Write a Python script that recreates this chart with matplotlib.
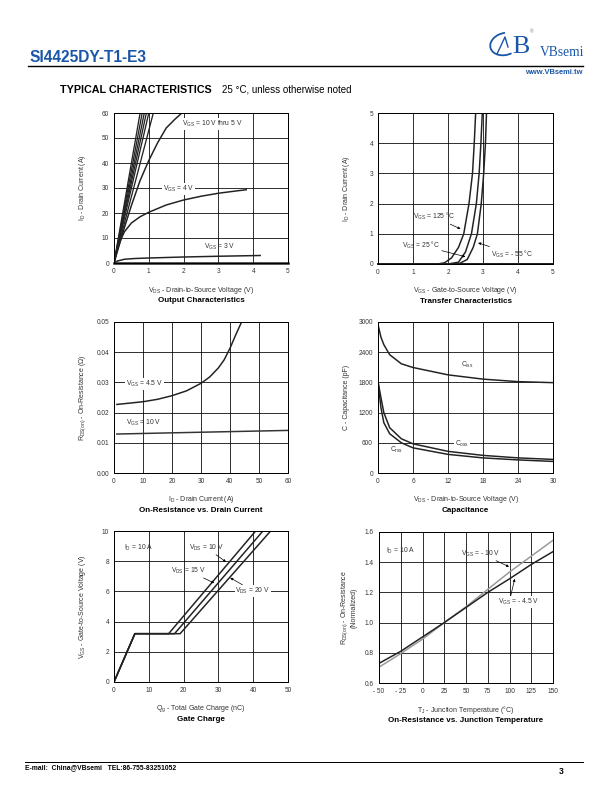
import matplotlib
matplotlib.use('Agg')
import matplotlib.pyplot as plt
from matplotlib.patches import Arc
from matplotlib.lines import Line2D

plt.rcParams['font.family'] = ['Liberation Sans', 'DejaVu Sans']
plt.rcParams['mathtext.fontset'] = 'custom'
plt.rcParams['mathtext.rm'] = 'Liberation Sans'
plt.rcParams['mathtext.it'] = 'Liberation Sans:italic'
plt.rcParams['mathtext.bf'] = 'Liberation Sans:bold'

W, H = 612, 792
BLUE = '#1a56a8'
TXT = '#333333'

# ---------------- data ----------------
# Output characteristics
out_steep_vds = [[0, 0.75], [0, 0.81], [0, 0.87], [0, 0.93], [0, 1.0], [0, 1.13]]
out_steep_id = [0, 60]
out_vgs5_vds = [0, 0.25, 0.5, 0.75, 1.0, 1.25, 1.5, 1.75, 1.95]
out_vgs5_id = [0, 12, 23, 33, 41, 48, 54, 57.5, 60]
out_vgs4_vds = [0, 0.05, 0.1, 0.2, 0.3, 0.5, 0.75, 1.0, 1.5, 2.0, 2.5, 3.0, 3.5, 3.8]
out_vgs4_id = [0, 3, 5.5, 9.5, 12.5, 16, 18.5, 20.3, 23.2, 25.2, 26.7, 27.9, 28.8, 29.3]
out_vgs3_vds = [0, 0.1, 0.3, 0.6, 1.0, 2.0, 3.0, 4.2]
out_vgs3_id = [0, 0.8, 1.5, 1.8, 2.0, 2.4, 2.7, 3.0]
out_vgs2_vds = [0, 5]
out_vgs2_id = [0, 0]

# Transfer characteristics
tr_125_vgs = [0, 1.7, 1.9, 2.1, 2.3, 2.45, 2.6, 2.7, 2.75, 2.79]
tr_125_id = [0, 0, 0.04, 0.2, 0.55, 1.0, 2.0, 3.0, 4.0, 5]
tr_25_vgs = [0, 2.0, 2.3, 2.5, 2.67, 2.81, 2.89, 2.94, 2.98]
tr_25_id = [0, 0, 0.06, 0.4, 1.0, 2.0, 3.0, 4.0, 5]
tr_m55_vgs = [0, 2.3, 2.55, 2.72, 2.84, 2.95, 3.02, 3.07, 3.1]
tr_m55_id = [0, 0, 0.15, 0.55, 1.0, 2.0, 3.0, 4.0, 5]

# On-resistance vs drain current
rd_id_45 = [1, 5, 10, 15, 20, 25, 30, 33, 36, 38, 40, 42, 44]
rd_r_45 = [0.0227, 0.0231, 0.0236, 0.0244, 0.0256, 0.0272, 0.0297, 0.0318, 0.0348, 0.0375, 0.0413, 0.0458, 0.0500]
rd_id_10 = [1, 20, 40, 60]
rd_r_10 = [0.0129, 0.0133, 0.0137, 0.0141]

# Capacitance
cap_vds = [0, 0.5, 1, 2, 4, 6, 12, 18, 24, 30]
cap_ciss = [2950, 2700, 2550, 2350, 2170, 2096, 1950, 1865, 1815, 1795]
cap_coss = [1820, 1500, 1200, 900, 680, 580, 430, 350, 300, 270]
cap_crss = [1800, 1300, 1000, 780, 600, 500, 370, 300, 260, 230]

# Gate charge
gc_vgs = [0, 3.2, 3.2, 10]
gc_qg_10 = [0, 6, 15.7, 40.7]
gc_qg_15 = [0, 6, 17.4, 42.8]
gc_qg_20 = [0, 6, 19.0, 45.0]

# On-resistance vs junction temperature
tj = [-50, -25, 0, 25, 50, 75, 100, 125, 150]
rt_45 = [0.73, 0.81, 0.905, 1.0, 1.10, 1.20, 1.29, 1.385, 1.47]
rt_10 = [0.705, 0.795, 0.89, 1.0, 1.105, 1.22, 1.335, 1.44, 1.545]

fig = plt.figure(figsize=(W / 72, H / 72), dpi=72)


def fx(x):
    return x / W


def fy(y):
    return 1 - y / H


def make_ax(l, t, r, b, xlim, ylim, xticks, yticks, xlabel, ylabel, title,
            xticklabels=None, yticklabels=None):
    ax = fig.add_axes([fx(l), fy(b), (r - l) / W, (b - t) / H])
    ax.set_xlim(xlim)
    ax.set_ylim(ylim)
    ax.set_xticks(xticks)
    ax.set_yticks(yticks)
    if xticklabels is not None:
        ax.set_xticklabels(xticklabels)
    if yticklabels is not None:
        ax.set_yticklabels(yticklabels)
    ax.tick_params(length=0, labelsize=6.5, labelcolor=TXT, pad=5)
    ax.grid(True, color='black', lw=0.8)
    for s in ax.spines.values():
        s.set_linewidth(1.0)
    cx = (l + r) / 2
    fig.text(fx(cx), fy(b + 27), xlabel, ha='center', va='center', fontsize=7, color=TXT)
    fig.text(fx(cx), fy(b + 37.5), title, ha='center', va='center', fontsize=8,
             fontweight='bold')
    fig.text(fx(l - 31), fy((t + b) / 2), ylabel, ha='center', va='center', rotation=90,
             fontsize=7, color=TXT, multialignment='center', linespacing=1.1)
    return ax


lab = dict(fontsize=6.8, color=TXT)
wbox = dict(facecolor='white', edgecolor='none', pad=0.8)
arr = dict(arrowstyle='-|>', color='black', lw=0.7, mutation_scale=5, shrinkA=0, shrinkB=0)
LW = 1.5

# ---- header ----
fig.text(fx(30), fy(57), 'SI4425DY-T1-E3', fontsize=15.5, fontweight='bold', color=BLUE,
         va='center', ha='left')
fig.add_artist(Line2D([fx(28), fx(583)], [fy(66), fy(66)], color='black', lw=1.4))
fig.text(fx(583), fy(72), 'www.VBsemi.tw', fontsize=7.5, fontweight='bold', color=BLUE,
         ha='right', va='center')
fig.text(fx(584), fy(52), 'VBsemi', fontsize=13.5, family='Liberation Serif', color=BLUE,
         ha='right', va='center')
fig.text(fx(532), fy(32), '®', fontsize=4.5, color='#777777', ha='center', va='center')
logo = fig.add_axes([fx(488), fy(61), 46 / W, 30 / H])
logo.set_xlim(0, 46)
logo.set_ylim(0, 30)
logo.axis('off')
logo.add_patch(Arc((17, 17), 30, 22, angle=15, theta1=75, theta2=290, color=BLUE, lw=1.8))
logo.plot([9, 17, 20], [7, 24, 14], color=BLUE, lw=1.4)
logo.text(33, 14, 'B', fontsize=26, family='Liberation Serif', color=BLUE, ha='center',
          va='center')

fig.text(fx(60), fy(90), 'TYPICAL CHARACTERISTICS', fontsize=10.8, fontweight='bold',
         va='center', ha='left')
fig.text(fx(222), fy(90), '25 °C, unless otherwise noted', fontsize=9.8, va='center',
         ha='left')

# ---- footer ----
fig.add_artist(Line2D([fx(25), fx(583)], [fy(762), fy(762)], color='black', lw=1.0))
fig.text(fx(25), fy(768), 'E-mail:  China@VBsemi   TEL:86-755-83251052', fontsize=6.8,
         fontweight='bold', va='center', ha='left')
fig.text(fx(561), fy(771), '3', fontsize=8.5, fontweight='bold', va='center', ha='center')

# ---- 1: output characteristics ----
ax = make_ax(114, 113, 288, 263, (0, 5), (0, 60), range(0, 6), range(0, 61, 10),
             r'V$_{\rm DS}$ - Drain-to-Source Voltage (V)', r'I$_{\rm D}$ - Drain Current (A)',
             'Output Characteristics')
for v in out_steep_vds:
    ax.plot(v, out_steep_id, color='#222222', lw=1.3)
ax.plot(out_vgs5_vds, out_vgs5_id, color='#222222', lw=LW)
ax.plot(out_vgs4_vds, out_vgs4_id, color='#222222', lw=LW)
ax.plot(out_vgs3_vds, out_vgs3_id, color='#222222', lw=LW)
ax.plot(out_vgs2_vds, out_vgs2_id, color='#222222', lw=2.5, clip_on=False)
ax.text(1.95, 55.5, r'V$_{\rm GS}$ = 10 V thru 5 V', va='center', ha='left', bbox=wbox, **lab)
ax.text(1.4, 29.6, r'V$_{\rm GS}$ = 4 V', va='center', ha='left', bbox=wbox, **lab)
ax.text(2.6, 6.3, r'V$_{\rm GS}$ = 3 V', va='center', ha='left', **lab)

# ---- 2: transfer characteristics ----
ax = make_ax(378, 113, 553, 264, (0, 5), (0, 5), range(0, 6), range(0, 6),
             r'V$_{\rm GS}$ - Gate-to-Source Voltage (V)', r'I$_{\rm D}$ - Drain Current (A)',
             'Transfer Characteristics')
ax.plot(tr_125_vgs, tr_125_id, color='#222222', lw=LW)
ax.plot(tr_25_vgs, tr_25_id, color='#222222', lw=LW)
ax.plot(tr_m55_vgs, tr_m55_id, color='#222222', lw=LW)
ax.plot([0, 5], [0, 0], color='#222222', lw=2.0, clip_on=False)
ax.annotate(r'V$_{\rm GS}$ = 125 °C', xy=(2.36, 1.16), xytext=(1.0, 1.57), va='center',
            ha='left', arrowprops=arr, **lab)
ax.annotate(r'V$_{\rm GS}$ = 25 °C', xy=(2.5, 0.24), xytext=(0.68, 0.62), va='center',
            ha='left', arrowprops=arr, **lab)
ax.annotate(r'V$_{\rm GS}$ = - 55 °C', xy=(2.86, 0.7), xytext=(3.24, 0.33), va='center',
            ha='left', arrowprops=arr, **lab)

# ---- 3: on-resistance vs drain current ----
ax = make_ax(114, 322, 288, 473, (0, 60), (0, 0.05), range(0, 61, 10),
             [0, 0.01, 0.02, 0.03, 0.04, 0.05],
             r'I$_{\rm D}$ - Drain Current (A)',
             r'R$_{\rm DS(on)}$ - On-Resistance ($\Omega$)',
             'On-Resistance vs. Drain Current',
             yticklabels=['0.00', '0.01', '0.02', '0.03', '0.04', '0.05'])
ax.plot(rd_id_45, rd_r_45, color='#222222', lw=LW)
ax.plot(rd_id_10, rd_r_10, color='#333333', lw=LW)
ax.text(4.2, 0.0294, r'V$_{\rm GS}$ = 4.5 V', va='center', ha='left', bbox=wbox, **lab)
ax.text(4.0, 0.0167, r'V$_{\rm GS}$ = 10 V', va='center', ha='left', **lab)

# ---- 4: capacitance ----
ax = make_ax(378, 322, 553, 473, (0, 30), (0, 3000), range(0, 31, 6), range(0, 3001, 600),
             r'V$_{\rm DS}$ - Drain-to-Source Voltage (V)', 'C - Capacitance (pF)',
             'Capacitance')
ax.plot(cap_vds, cap_ciss, color='#222222', lw=LW)
ax.plot(cap_vds, cap_coss, color='#222222', lw=LW)
ax.plot(cap_vds, cap_crss, color='#222222', lw=LW)
ax.text(14.3, 2150, r'C$_{\rm iss}$', va='center', ha='left', **lab)
ax.text(13.2, 585, r'C$_{\rm oss}$', va='center', ha='left', bbox=wbox, **lab)
ax.text(2.1, 450, r'C$_{\rm rss}$', va='center', ha='left', **lab)

# ---- 5: gate charge ----
ax = make_ax(114, 531, 288, 682, (0, 50), (0, 10), range(0, 51, 10), range(0, 11, 2),
             r'Q$_{\rm g}$ - Total Gate Charge (nC)',
             r'V$_{\rm GS}$ - Gate-to-Source Voltage (V)', 'Gate Charge')
ax.plot(gc_qg_10, gc_vgs, color='#222222', lw=LW)
ax.plot(gc_qg_15, gc_vgs, color='#222222', lw=LW)
ax.plot(gc_qg_20, gc_vgs, color='#222222', lw=LW)
ax.text(2.8, 8.85, r'I$_{\rm D}$ = 10 A', va='center', ha='left', **lab)
ax.annotate(r'V$_{\rm DS}$ = 10 V', xy=(32.2, 7.95), xytext=(21.5, 8.9), va='center',
            ha='left', arrowprops=arr, **lab)
ax.annotate(r'V$_{\rm DS}$ = 15 V', xy=(28.8, 6.55), xytext=(16.5, 7.36), va='center',
            ha='left', arrowprops=arr, **lab)
ax.annotate(r'V$_{\rm DS}$ = 20 V', xy=(33.4, 6.9), xytext=(34.9, 6.04), va='center',
            ha='left', arrowprops=arr, bbox=wbox, **lab)

# ---- 6: on-resistance vs junction temperature ----
ax = make_ax(379, 532, 553, 683, (-50, 150), (0.6, 1.6), range(-50, 151, 25),
             [0.6, 0.8, 1.0, 1.2, 1.4, 1.6],
             r'T$_{\rm J}$ - Junction Temperature (°C)',
             'R$_{\\rm DS(on)}$ - On-Resistance\n(Normalized)',
             'On-Resistance vs. Junction Temperature',
             xticklabels=['- 50', '- 25', '0', '25', '50', '75', '100', '125', '150'])
ax.plot(tj, rt_10, color='#999999', lw=LW)
ax.plot(tj, rt_45, color='#222222', lw=LW)
ax.text(-42, 1.475, r'I$_{\rm D}$ = 10 A', va='center', ha='left', **lab)
ax.annotate(r'V$_{\rm GS}$ = - 10 V', xy=(99.5, 1.37), xytext=(44.5, 1.457), va='center',
            ha='left', arrowprops=arr, **lab)
ax.annotate(r'V$_{\rm GS}$ = - 4.5 V', xy=(106, 1.29), xytext=(87, 1.138), va='center',
            ha='left', bbox=wbox,
            arrowprops=dict(arr, relpos=(0.3, 1.0)), **lab)

fig.savefig('out.png', dpi=72)
